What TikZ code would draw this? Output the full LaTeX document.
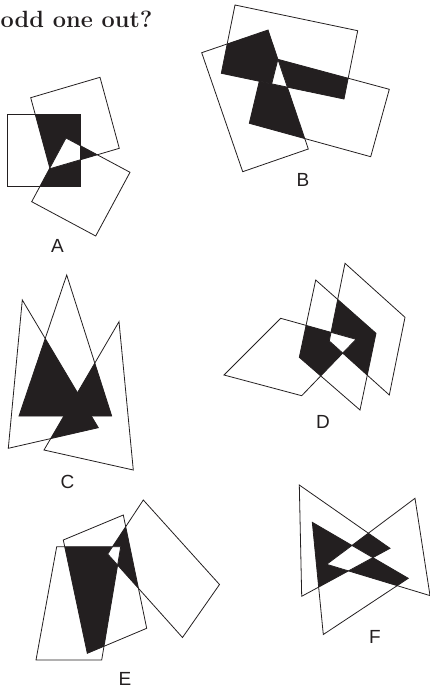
\documentclass[tikz,border=0pt]{standalone}
\usepackage{fontspec}
\setsansfont{Liberation Sans}
\usepackage{tikz}
\definecolor{ink}{HTML}{231F20}
\tikzset{
  edge/.style={draw=ink,line width=0.8pt,line join=miter},
  blot/.style={fill=ink},
  hole/.style={fill=white},
  tag/.style={font=\sffamily\fontsize{19}{19}\selectfont,text=ink,inner sep=0pt},
  headline/.style={font=\fontsize{23.5}{23.5}\selectfont\bfseries,text=ink,inner sep=0pt,anchor=base west}
}
\newcommand{\pairblots}[3]{%
  \begin{scope}\clip #1; \fill[blot] #2;\end{scope}
  \begin{scope}\clip #1; \fill[blot] #3;\end{scope}
  \begin{scope}\clip #2; \fill[blot] #3;\end{scope}}
\newcommand{\triplehole}[3]{%
  \begin{scope}\clip #1; \clip #2; \fill[hole] #3;\end{scope}}
\newcommand{\shapelines}[3]{\draw[edge] #1; \draw[edge] #2; \draw[edge] #3;}

\begin{document}
\begin{tikzpicture}[x=1pt,y=-1pt]
  \useasboundingbox (0,0) rectangle (429,691);
  \def\Aone{(7.3,114) -- (80,114) -- (80,186.7) -- (7.3,186.7) -- cycle}
  \def\Atwo{(30.7,97.7) -- (100,77.3) -- (119.3,148.3) -- (50,168.7) -- cycle}
  \def\Athree{(66,138) -- (130,172.3) -- (95.7,236) -- (31.7,201.7) -- cycle}
  \def\Bone{(235,5) -- (357.7,30.7) -- (344,99) -- (221.3,73.3) -- cycle}
  \def\Btwo{(201.7,52.7) -- (268,30) -- (308.3,149) -- (242.7,171.7) -- cycle}
  \def\Bthree{(277.9,59.3) -- (389.3,89.3) -- (370.7,156.7) -- (249.3,123.3) -- (259.3,81.3) -- (271.7,83.9) -- cycle}
  \def\Cone{(22.3,300) -- (8.3,448.3) -- (98.3,427.7) -- cycle}
  \def\Ctwo{(66.7,275) -- (19,416) -- (111.7,416) -- cycle}
  \def\Cthree{(119,321.7) -- (133.3,470) -- (44,450) -- cycle}
  \def\Done{(280.7,318.3) -- (224,375) -- (301.7,395.7) -- (356,339.3) -- cycle}
  \def\Dtwo{(315.7,280) -- (376,333.3) -- (360,410) -- (299.3,357.3) -- cycle}
  \def\Dthree{(345,263.3) -- (405,317.3) -- (389.3,395) -- (329.3,341) -- cycle}
  \def\Eone{(56.7,546.7) -- (120.7,546.7) -- (101.7,660) -- (36,660) -- cycle}
  \def\Etwo{(63.3,540) -- (123.3,515) -- (146.7,628.3) -- (87.3,653.3) -- cycle}
  \def\Ethree{(143.3,500) -- (219.5,584.5) -- (182.5,637.5) -- (107.7,554) -- cycle}
  \def\Fone{(299.3,485) -- (301.7,596.3) -- (390,548.3) -- cycle}
  \def\Ftwo{(326.7,564.3) -- (415,498.3) -- (430,595.6) -- cycle}
  \def\Fthree{(312.3,522.3) -- (323.3,634.5) -- (408.3,578.3) -- cycle}

  \pairblots{\Aone}{\Atwo}{\Athree}
  \triplehole{\Aone}{\Atwo}{\Athree}
  \shapelines{\Aone}{\Atwo}{\Athree}

  \pairblots{\Bone}{\Btwo}{\Bthree}
  \triplehole{\Bone}{\Btwo}{\Bthree}
  \shapelines{\Bone}{\Btwo}{\Bthree}

  \pairblots{\Cone}{\Ctwo}{\Cthree}
  \shapelines{\Cone}{\Ctwo}{\Cthree}

  \pairblots{\Done}{\Dtwo}{\Dthree}
  \triplehole{\Done}{\Dtwo}{\Dthree}
  \shapelines{\Done}{\Dtwo}{\Dthree}

  \pairblots{\Eone}{\Etwo}{\Ethree}
  \triplehole{\Eone}{\Etwo}{\Ethree}
  \shapelines{\Eone}{\Etwo}{\Ethree}

  \pairblots{\Fone}{\Ftwo}{\Fthree}
  \triplehole{\Fone}{\Ftwo}{\Fthree}
  \shapelines{\Fone}{\Ftwo}{\Fthree}

  \node[headline] (title) at (0.5,27) {odd one out?};
  \node[tag] (labA) at (57.5,246) {A};
  \node[tag] (labB) at (303,180) {B};
  \node[tag] (labC) at (67.5,482) {C};
  \node[tag] (labD) at (323,422) {D};
  \node[tag] (labE) at (125,679) {E};
  \node[tag] (labF) at (375,637) {F};
\end{tikzpicture}
\end{document}
